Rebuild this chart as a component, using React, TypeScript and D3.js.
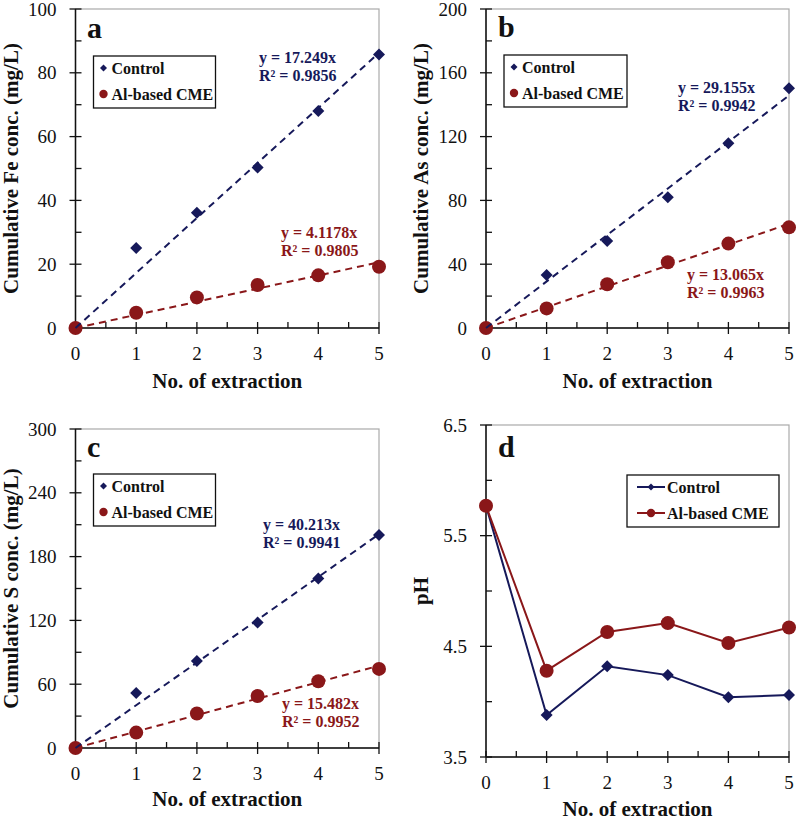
import * as d3 from 'd3'

// extraction number (x axis)
const extraction = [0, 1, 2, 3, 4, 5]

// cumulative concentrations (mg/L)
const feControl = [0, 25.1, 36.1, 50.3, 68, 85.7]
const feCme = [0, 4.8, 9.6, 13.5, 16.5, 19.2]
const asControl = [0, 33.2, 54.5, 81.9, 115.8, 150.3]
const asCme = [0, 12.3, 27.4, 41.2, 52.9, 63.1]
const sControl = [0, 51.8, 81.9, 118, 159.5, 200.2]
const sCme = [0, 14.5, 32.4, 48.9, 62.8, 74.4]

// pH
const phControl = [5.77, 3.88, 4.32, 4.24, 4.04, 4.06]
const phCme = [5.77, 4.28, 4.63, 4.71, 4.53, 4.67]

// trendline slopes and R² [control, CME]
const feSlopes = [17.249, 4.1178]
const feR2 = ['0.9856', '0.9805']
const asSlopes = [29.155, 13.065]
const asR2 = ['0.9942', '0.9963']
const sSlopes = [40.213, 15.482]
const sR2 = ['0.9941', '0.9952']

// tick labels
const xTicks = [0, 1, 2, 3, 4, 5]
const feTicks = [0, 20, 40, 60, 80, 100]
const asTicks = [0, 40, 80, 120, 160, 200]
const sTicks = [0, 60, 120, 180, 240, 300]
const phTicks = [3.5, 4.5, 5.5, 6.5]

const seriesNames = ['Control', 'Al-based CME']

const BLUE = '#16195a'
const RED = '#8a1719'
const fontStyle = { fontFamily: "'Liberation Serif', 'Times New Roman', Times, serif" }

const diamond = (cx, cy, r) =>
  `M${cx},${cy - r}L${cx + r},${cy}L${cx},${cy + r}L${cx - r},${cy}Z`

function Panel({
  left, right, top, bottom, yTicks, control, cme, letter, yTitle,
  slopes, r2, eqPos, legend, lineMode, tickFmt, titleGap,
}) {
  const yMin = yTicks[0]
  const yMax = yTicks[yTicks.length - 1]
  const x = d3.scaleLinear().domain([0, 5]).range([left, right])
  const y = d3.scaleLinear().domain([yMin, yMax]).range([bottom, top])
  const step = yTicks[1] - yTicks[0]
  const yMinor = yTicks.slice(0, -1).map((t) => t + step / 2)
  const xMinor = xTicks.slice(0, -1).map((t) => t + 0.5)
  const line = d3
    .line()
    .x((d) => x(d[0]))
    .y((d) => y(d[1]))

  const ctrlPts = extraction.map((e, i) => [e, control[i]])
  const cmePts = extraction.map((e, i) => [e, cme[i]])

  const trend = (k) => line([[0, 0], [5, 5 * k]])

  return (
    <g>
      {/* frame */}
      <rect x={left} y={top} width={right - left} height={bottom - top}
        fill="none" stroke="#aaa" strokeWidth={1.2} />
      <line x1={left} x2={left} y1={top} y2={bottom} stroke="#111" strokeWidth={1.5} />
      <line x1={left} x2={right} y1={bottom} y2={bottom} stroke="#111" strokeWidth={1.5} />

      {/* y ticks */}
      {yTicks.map((t) => (
        <g key={'y' + t}>
          <line x1={left - 6} x2={left + 6} y1={y(t)} y2={y(t)} stroke="#111" strokeWidth={1.3} />
          <text x={left - 19} y={y(t)} dy="0.35em" textAnchor="end" fontSize={19} fill="#111" style={fontStyle}>
            {tickFmt ? tickFmt(t) : t}
          </text>
        </g>
      ))}
      {yMinor.map((t) => (
        <line key={'ym' + t} x1={left} x2={left + 6} y1={y(t)} y2={y(t)} stroke="#111" strokeWidth={1.3} />
      ))}

      {/* x ticks */}
      {xTicks.map((t) => (
        <g key={'x' + t}>
          <line x1={x(t)} x2={x(t)} y1={bottom - 6} y2={bottom + 6} stroke="#111" strokeWidth={1.3} />
          <text x={x(t)} y={bottom + 32} textAnchor="middle" fontSize={19} fill="#111" style={fontStyle}>{t}</text>
        </g>
      ))}
      {xMinor.map((t) => (
        <line key={'xm' + t} x1={x(t)} x2={x(t)} y1={bottom - 6} y2={bottom} stroke="#111" strokeWidth={1.3} />
      ))}

      {/* titles */}
      <text x={(left + right) / 2} y={bottom + titleGap} textAnchor="middle" fontSize={21}
        fontWeight="bold" fill="#111" style={fontStyle}>
        No. of extraction
      </text>
      <text transform={`translate(${left - 58},${(top + bottom) / 2}) rotate(-90)`}
        textAnchor="middle" fontSize={21} fontWeight="bold" fill="#111" style={fontStyle}>
        {yTitle}
      </text>
      <text x={letter.x} y={letter.y} fontSize={30} fontWeight="bold" fill="#111" style={fontStyle}>{letter.t}</text>

      {/* series */}
      {lineMode ? (
        <g>
          <path d={line(ctrlPts)} fill="none" stroke={BLUE} strokeWidth={2} />
          {ctrlPts.map((p, i) => (
            <path key={'c' + i} d={diamond(x(p[0]), y(p[1]), 6)} fill={BLUE} />
          ))}
          <path d={line(cmePts)} fill="none" stroke={RED} strokeWidth={2} />
          {cmePts.map((p, i) => (
            <circle key={'m' + i} cx={x(p[0])} cy={y(p[1])} r={7} fill={RED} />
          ))}
        </g>
      ) : (
        <g>
          <path d={trend(slopes[1])} fill="none" stroke={RED} strokeWidth={2} strokeDasharray="7,5" />
          {ctrlPts.map((p, i) => (
            <path key={'c' + i} d={diamond(x(p[0]), y(p[1]), 6)} fill={BLUE} />
          ))}
          {cmePts.map((p, i) => (
            <circle key={'m' + i} cx={x(p[0])} cy={y(p[1])} r={7} fill={RED} />
          ))}
          <path d={trend(slopes[0])} fill="none" stroke={BLUE} strokeWidth={2} strokeDasharray="7,5" />
          {[0, 1].map((k) => (
            <g key={'eq' + k} fontSize={16} fontWeight="bold" fill={k === 0 ? BLUE : RED}>
              <text x={left + eqPos[k][0]} y={top + eqPos[k][1]} style={fontStyle}>{`y = ${slopes[k]}x`}</text>
              <text x={left + eqPos[k][0]} y={top + eqPos[k][1] + 18} style={fontStyle}>{`R² = ${r2[k]}`}</text>
            </g>
          ))}
        </g>
      )}

      {/* legend */}
      <g transform={`translate(${left + legend.dx},${top + legend.dy})`}>
        <rect x={0} y={0} width={legend.w} height={52} fill="#fff" stroke="#111" strokeWidth={1.3} />
        {seriesNames.map((name, i) => {
          const cy = 12 + i * 26
          const mx = lineMode ? 24 : 10
          const tx = lineMode ? 40 : 18
          return (
            <g key={name}>
              {lineMode && (
                <line x1={10} x2={38} y1={cy} y2={cy} stroke={i === 0 ? BLUE : RED} strokeWidth={2} />
              )}
              {i === 0 ? (
                <path d={diamond(mx, cy, 3.5)} fill={BLUE} />
              ) : (
                <circle cx={mx} cy={cy} r={4.2} fill={RED} />
              )}
              <text x={tx} y={cy + 5.5} fontSize={16} fontWeight="bold" fill="#111" style={fontStyle}>{name}</text>
            </g>
          )
        })}
      </g>
    </g>
  )
}

export default function App() {
  return (
    <svg width={799} height={820}
      style={{ position: 'absolute', left: 0, top: 0, background: '#fff' }}>
      <rect width={799} height={820} fill="#fff" />
      <Panel
        left={75.5} right={379} top={9} bottom={328}
        yTicks={feTicks} control={feControl} cme={feCme}
        letter={{ t: 'a', x: 87, y: 38 }}
        yTitle="Cumulative Fe conc. (mg/L)"
        slopes={feSlopes} r2={feR2}
        eqPos={[[183.5, 54], [205.5, 229]]}
        legend={{ dx: 18, dy: 47, w: 122 }}
        titleGap={60}
      />
      <Panel
        left={486} right={789} top={9} bottom={328}
        yTicks={asTicks} control={asControl} cme={asCme}
        letter={{ t: 'b', x: 498, y: 37 }}
        yTitle="Cumulative As conc. (mg/L)"
        slopes={asSlopes} r2={asR2}
        eqPos={[[192, 84], [201, 271]]}
        legend={{ dx: 18, dy: 46, w: 123 }}
        titleGap={60}
      />
      <Panel
        left={75.5} right={379} top={429} bottom={748}
        yTicks={sTicks} control={sControl} cme={sCme}
        letter={{ t: 'c', x: 87, y: 457 }}
        yTitle="Cumulative S conc. (mg/L)"
        slopes={sSlopes} r2={sR2}
        eqPos={[[187.5, 101], [206.5, 280]]}
        legend={{ dx: 18, dy: 45, w: 122 }}
        titleGap={58}
      />
      <Panel
        left={486} right={789} top={425} bottom={757}
        yTicks={phTicks} control={phControl} cme={phCme}
        letter={{ t: 'd', x: 498, y: 457 }}
        yTitle="pH"
        lineMode
        tickFmt={(t) => t.toFixed(1)}
        legend={{ dx: 141, dy: 50, w: 152 }}
        titleGap={59}
      />
    </svg>
  )
}
